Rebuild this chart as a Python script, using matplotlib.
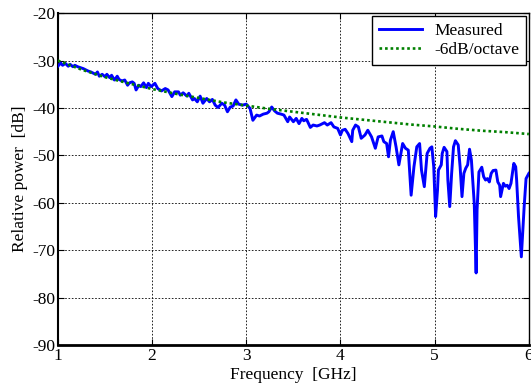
import matplotlib
matplotlib.use("Agg")
import matplotlib.pyplot as plt

plt.rcParams['font.family'] = ['Liberation Serif', 'DejaVu Serif']
plt.rcParams['axes.unicode_minus'] = False

freq_meas = [1.00, 1.03, 1.05, 1.08, 1.11, 1.13, 1.16, 1.18, 1.21, 1.24, 1.27, 1.29, 1.32, 1.35,
             1.37, 1.40, 1.42, 1.44, 1.47, 1.50, 1.52, 1.55, 1.57, 1.60, 1.63, 1.65, 1.68, 1.71,
             1.74, 1.76, 1.79, 1.81, 1.83, 1.86, 1.88, 1.91, 1.94, 1.96, 1.99, 2.03,
             2.06, 2.10, 2.14, 2.17, 2.21, 2.24, 2.28, 2.30, 2.33, 2.37, 2.39, 2.43, 2.45, 2.48,
             2.51, 2.54, 2.58, 2.61, 2.64, 2.67, 2.70, 2.74, 2.77, 2.80, 2.83, 2.86, 2.89, 2.92,
             2.96, 3.00, 3.04, 3.07, 3.11, 3.14, 3.18, 3.22, 3.24, 3.27, 3.30, 3.33, 3.37, 3.40,
             3.44, 3.46, 3.50, 3.53, 3.56, 3.59, 3.61, 3.64, 3.68, 3.71, 3.75, 3.78, 3.83, 3.86,
             3.90, 3.93, 3.97, 4.00, 4.02, 4.05, 4.08, 4.12, 4.13, 4.16, 4.19, 4.22, 4.26, 4.29,
             4.33, 4.37, 4.40, 4.44, 4.46, 4.49, 4.51, 4.53, 4.56, 4.59, 4.62, 4.66, 4.69, 4.72,
             4.75, 4.78, 4.81, 4.84, 4.86, 4.89, 4.92, 4.95, 4.97, 4.99, 5.01, 5.03, 5.04, 5.07,
             5.08, 5.10, 5.13, 5.14, 5.16, 5.18, 5.20, 5.22, 5.25, 5.27, 5.29, 5.31, 5.33, 5.35,
             5.37, 5.39, 5.42, 5.44, 5.45, 5.47, 5.50, 5.52, 5.54, 5.56, 5.58, 5.60, 5.62, 5.65,
             5.67, 5.69, 5.70, 5.73, 5.75, 5.77, 5.79, 5.81, 5.84, 5.86, 5.87, 5.89, 5.92, 5.93,
             5.95, 5.97, 6.00]
power_meas = [-31.2, -30.5, -31.0, -30.6, -31.2, -30.8, -31.3, -31.0, -31.3, -31.5, -31.7, -31.9, -32.2, -32.4,
              -32.6, -32.9, -32.4, -33.3, -32.9, -33.4, -32.9, -33.6, -33.1, -34.1, -33.3, -34.0, -34.3, -34.1,
              -35.2, -34.7, -34.5, -34.8, -36.2, -35.2, -35.5, -34.7, -35.7, -34.8, -35.5, -34.8,
              -35.9, -36.4, -35.9, -36.2, -37.6, -36.6, -36.6, -37.3, -36.8, -37.5, -36.9, -38.3, -38.0, -38.7,
              -37.5, -39.0, -38.0, -38.7, -38.2, -39.4, -39.9, -39.0, -39.4, -40.8, -39.8, -39.6, -38.3, -39.2,
              -39.4, -39.2, -40.1, -42.6, -41.5, -41.7, -41.3, -41.1, -40.8, -39.8, -40.6, -41.1, -41.3, -41.5,
              -42.9, -41.9, -42.9, -42.2, -43.3, -42.2, -42.7, -42.4, -44.1, -43.6, -43.8, -43.6, -43.1, -43.6,
              -43.1, -44.0, -44.3, -45.7, -44.7, -44.5, -45.4, -47.1, -44.7, -43.6, -44.0, -46.4, -45.7, -44.7,
              -46.1, -48.5, -46.1, -45.9, -47.1, -47.5, -50.3, -46.8, -45.0, -48.2, -52.0, -47.5, -48.5, -48.9,
              -58.4, -52.4, -48.2, -47.5, -53.1, -56.6, -49.6, -48.5, -48.2, -52.4, -62.9, -57.3, -53.1, -52.0,
              -49.6, -48.3, -49.2, -55.2, -60.8, -53.8, -48.2, -46.9, -47.8, -52.4, -58.7, -53.8, -52.7, -52.0,
              -48.7, -51.0, -60.1, -74.8, -61.5, -53.5, -52.5, -54.5, -55.2, -54.9, -55.6, -53.8, -53.2, -53.1,
              -55.6, -56.3, -58.7, -55.9, -56.5, -56.3, -57.0, -55.9, -51.7, -52.4, -55.2, -62.9, -71.4, -67.9,
              -60.8, -54.9, -53.8]

freq_ref = [1.00, 1.25, 1.50, 1.75, 2.00, 2.25, 2.50, 2.75, 3.00, 3.25, 3.50, 3.75, 4.00,
            4.25, 4.50, 4.75, 5.00, 5.25, 5.50, 5.75, 6.00]
power_ref = [-30.0, -31.9, -33.5, -34.8, -36.0, -37.0, -37.9, -38.8, -39.5, -40.2, -40.8, -41.4, -42.0,
             -42.5, -43.0, -43.5, -43.9, -44.4, -44.8, -45.1, -45.5]

xticks = [1, 2, 3, 4, 5, 6]
yticks = [-90, -80, -70, -60, -50, -40, -30, -20]

FS = 12.5

fig = plt.figure(figsize=(5.31, 3.87), dpi=100)
ax = fig.add_axes([0.109, 0.1085, 0.887, 0.8575])

ax.plot(freq_meas, power_meas, color=(0, 0, 1), lw=2.1, label='Measured', zorder=3)
ax.plot(freq_ref, power_ref, color=(0, 0.5, 0), lw=1.9, linestyle=(0, (1, 1.1)), label='-6dB/octave', zorder=4)

ax.set_xlim(1, 6)
ax.set_ylim(-90, -20)
ax.set_xticks(xticks)
ax.set_yticks(yticks)
ax.set_xticklabels([str(t) for t in xticks])
ax.set_yticklabels([str(t) for t in yticks])
ax.grid(True, color='black', linestyle=(0, (2, 2)), lw=0.6)
ax.tick_params(direction='in', top=True, right=True, labelsize=FS, length=4, width=0.8, pad=2)
for s in ax.spines.values():
    s.set_linewidth(1.0)
ax.spines['bottom'].set_linewidth(2.0)
ax.spines['left'].set_linewidth(1.5)

ax.set_xlabel('Frequency  [GHz]', fontsize=FS, labelpad=2)
ax.set_ylabel('Relative power  [dB]', fontsize=FS, labelpad=3)

leg = ax.legend(loc='upper right', fontsize=FS, frameon=True, fancybox=False,
                edgecolor='black', framealpha=1, borderaxespad=0.15, handlelength=2.5,
                borderpad=0.4, labelspacing=0.15, handletextpad=0.7)
leg.get_frame().set_linewidth(1.0)

fig.savefig('out.png', dpi=100)
